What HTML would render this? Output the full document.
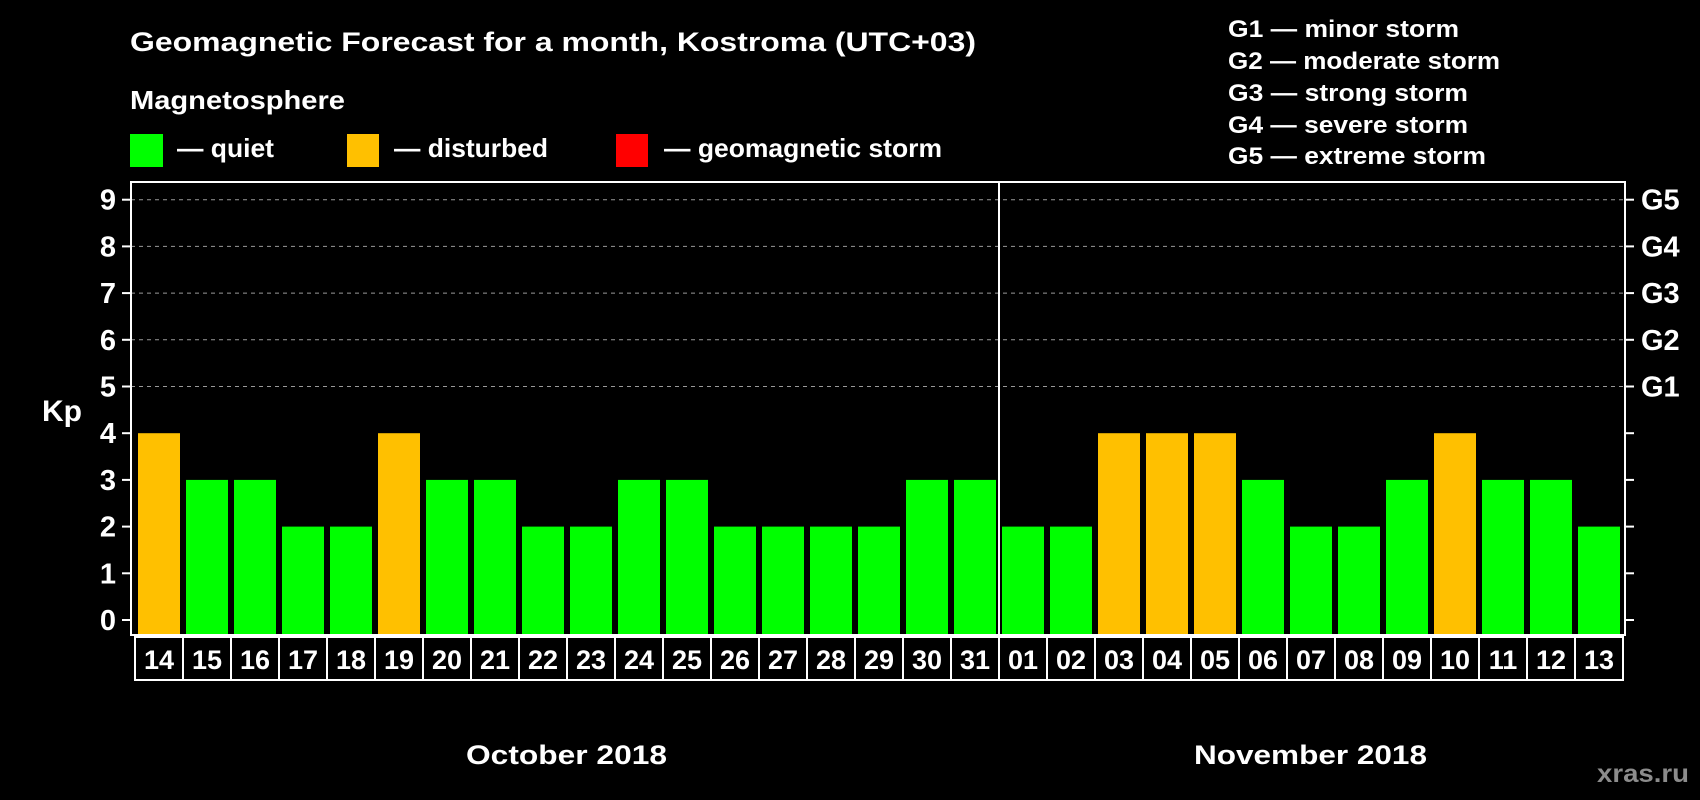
<!DOCTYPE html>
<html><head><meta charset="utf-8"><style>
html,body{margin:0;padding:0;background:#000;width:1700px;height:800px;overflow:hidden}
text{font-family:"Liberation Sans",Arial,sans-serif;font-weight:bold;fill:#fff}
</style></head><body>
<svg id="chart" width="1700" height="800" viewBox="0 0 1700 800" xmlns="http://www.w3.org/2000/svg">
<rect width="1700" height="800" fill="#000"/>
<text x="130" y="51" font-size="27" textLength="846" lengthAdjust="spacingAndGlyphs">Geomagnetic Forecast for a month, Kostroma (UTC+03)</text>
<text x="130" y="109" font-size="26" textLength="215" lengthAdjust="spacingAndGlyphs">Magnetosphere</text>
<g><rect x="130" y="134" width="33" height="33" fill="#00ff00"/><text x="177" y="157" font-size="26" textLength="97" lengthAdjust="spacingAndGlyphs">— quiet</text></g>
<g><rect x="347" y="134" width="32" height="33" fill="#ffc000"/><text x="394" y="157" font-size="26" textLength="154" lengthAdjust="spacingAndGlyphs">— disturbed</text></g>
<g><rect x="616" y="134" width="32" height="33" fill="#ff0000"/><text x="664" y="157" font-size="26" textLength="278" lengthAdjust="spacingAndGlyphs">— geomagnetic storm</text></g>
<g font-size="24">
<text x="1228" y="37" textLength="231" lengthAdjust="spacingAndGlyphs">G1 — minor storm</text>
<text x="1228" y="69" textLength="272" lengthAdjust="spacingAndGlyphs">G2 — moderate storm</text>
<text x="1228" y="101" textLength="240" lengthAdjust="spacingAndGlyphs">G3 — strong storm</text>
<text x="1228" y="133" textLength="240" lengthAdjust="spacingAndGlyphs">G4 — severe storm</text>
<text x="1228" y="164" textLength="258" lengthAdjust="spacingAndGlyphs">G5 — extreme storm</text>
</g>
<g id="grid"></g>
<g id="bars"></g>
<g id="axes"></g>
<text x="42" y="421" font-size="30">Kp</text>
<text x="466" y="764" font-size="27" textLength="201" lengthAdjust="spacingAndGlyphs">October 2018</text>
<text x="1194" y="764" font-size="27" textLength="233" lengthAdjust="spacingAndGlyphs">November 2018</text>
<text x="1597" y="782" font-size="25" style="fill:#8c8c8c" textLength="92" lengthAdjust="spacingAndGlyphs">xras.ru</text>
</svg>
<script>
const days = ["14","15","16","17","18","19","20","21","22","23","24","25","26","27","28","29","30","31","01","02","03","04","05","06","07","08","09","10","11","12","13"];
const kpValues = [4,3,3,2,2,4,3,3,2,2,3,3,2,2,2,2,3,3,2,2,4,4,4,3,2,2,3,4,3,3,2];
const yTicks = [0,1,2,3,4,5,6,7,8,9];
const gLabels = ["G1","G2","G3","G4","G5"];
const NS="http://www.w3.org/2000/svg";
const L=131,R=1625,T=182,B=635,x0=138,pitch=48,bw=42,y0=620,unit=46.7;
function y(v){return y0-v*unit;}
function x(i){return x0+i*pitch;}
function mk(tag,attrs,parent){const e=document.createElementNS(NS,tag);for(const k in attrs)e.setAttribute(k,attrs[k]);parent.appendChild(e);return e;}
const grid=document.getElementById('grid'),bars=document.getElementById('bars'),axes=document.getElementById('axes');
for(let v=5;v<=9;v++){
  const l=mk('line',{x1:L,x2:R,y1:y(v),y2:y(v),stroke:'#999','stroke-width':1,'stroke-dasharray':'4,4'},grid);
  
  
}
kpValues.forEach((v,i)=>{
  const c=v>=5?'#ff0000':(v>=4?'#ffc000':'#00ff00');
  const r=mk('rect',{x:x(i),y:y(v),width:bw,height:B-y(v),fill:c},bars);
  
  
});
const fr=mk('rect',{x:L,y:T,width:R-L,height:B-T,fill:'none',stroke:'#fff','stroke-width':2},axes);


const div=mk('line',{x1:999,x2:999,y1:T,y2:680,stroke:'#fff','stroke-width':2},axes);


yTicks.forEach(v=>{
  mk('line',{x1:122,x2:L,y1:y(v),y2:y(v),stroke:'#fff','stroke-width':2},axes);
  mk('line',{x1:R,x2:1634,y1:y(v),y2:y(v),stroke:'#fff','stroke-width':2},axes);
  const t=mk('text',{x:116,y:y(v)+10,'font-size':29,'text-anchor':'end'},axes);
  t.textContent=v;
  
  
});
gLabels.forEach((g,i)=>{
  const t=mk('text',{x:1641,y:y(i+5)+10,'font-size':29},axes);
  t.textContent=g;
  
  
});
const cellL=135,cellT=637,cellB=680;
const box=mk('rect',{x:cellL,y:cellT,width:1623-cellL,height:cellB-cellT,fill:'none',stroke:'#fff','stroke-width':2},axes);


days.forEach((d,i)=>{
  if(i>0){mk('line',{x1:cellL+i*pitch,x2:cellL+i*pitch,y1:cellT,y2:cellB,stroke:'#fff','stroke-width':2},axes);}
  const t=mk('text',{x:x(i)+bw/2,y:669,'font-size':27,'text-anchor':'middle'},axes);
  t.textContent=d;
  
  
});
</script>
</body></html>
